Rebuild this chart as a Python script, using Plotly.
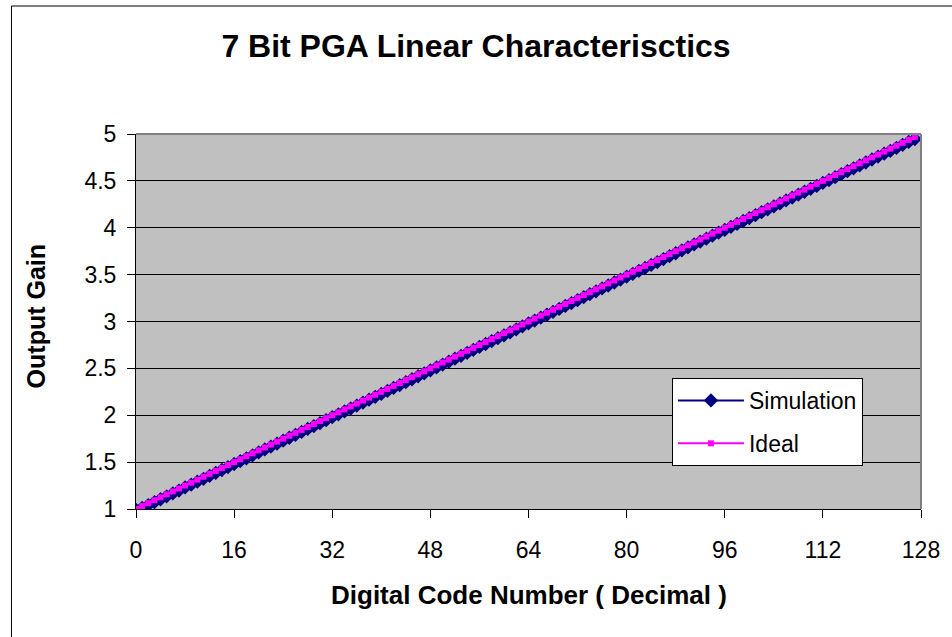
import plotly.graph_objects as go

codes = list(range(128))

ideal = [
    1.0, 1.03125, 1.0625, 1.09375, 1.125, 1.15625, 1.1875, 1.21875, 1.25, 1.28125, 1.3125, 1.34375, 1.375, 1.40625, 1.4375, 1.46875,
    1.5, 1.53125, 1.5625, 1.59375, 1.625, 1.65625, 1.6875, 1.71875, 1.75, 1.78125, 1.8125, 1.84375, 1.875, 1.90625, 1.9375, 1.96875,
    2.0, 2.03125, 2.0625, 2.09375, 2.125, 2.15625, 2.1875, 2.21875, 2.25, 2.28125, 2.3125, 2.34375, 2.375, 2.40625, 2.4375, 2.46875,
    2.5, 2.53125, 2.5625, 2.59375, 2.625, 2.65625, 2.6875, 2.71875, 2.75, 2.78125, 2.8125, 2.84375, 2.875, 2.90625, 2.9375, 2.96875,
    3.0, 3.03125, 3.0625, 3.09375, 3.125, 3.15625, 3.1875, 3.21875, 3.25, 3.28125, 3.3125, 3.34375, 3.375, 3.40625, 3.4375, 3.46875,
    3.5, 3.53125, 3.5625, 3.59375, 3.625, 3.65625, 3.6875, 3.71875, 3.75, 3.78125, 3.8125, 3.84375, 3.875, 3.90625, 3.9375, 3.96875,
    4.0, 4.03125, 4.0625, 4.09375, 4.125, 4.15625, 4.1875, 4.21875, 4.25, 4.28125, 4.3125, 4.34375, 4.375, 4.40625, 4.4375, 4.46875,
    4.5, 4.53125, 4.5625, 4.59375, 4.625, 4.65625, 4.6875, 4.71875, 4.75, 4.78125, 4.8125, 4.84375, 4.875, 4.90625, 4.9375, 4.96875,
]

simulation = [
    0.990, 1.012, 1.042, 1.073, 1.104, 1.135, 1.166, 1.197, 1.230, 1.260, 1.291, 1.322, 1.354, 1.385, 1.416, 1.447,
    1.480, 1.510, 1.541, 1.572, 1.603, 1.635, 1.666, 1.697, 1.729, 1.760, 1.791, 1.822, 1.854, 1.885, 1.916, 1.947,
    1.979, 2.010, 2.041, 2.072, 2.103, 2.134, 2.166, 2.197, 2.229, 2.260, 2.291, 2.322, 2.353, 2.384, 2.416, 2.447,
    2.479, 2.510, 2.541, 2.572, 2.603, 2.634, 2.666, 2.697, 2.729, 2.760, 2.791, 2.822, 2.853, 2.884, 2.916, 2.947,
    2.979, 3.010, 3.041, 3.072, 3.103, 3.134, 3.166, 3.197, 3.228, 3.259, 3.291, 3.322, 3.353, 3.384, 3.416, 3.447,
    3.478, 3.509, 3.541, 3.572, 3.603, 3.634, 3.666, 3.697, 3.728, 3.759, 3.791, 3.822, 3.853, 3.884, 3.916, 3.947,
    3.978, 4.009, 4.041, 4.072, 4.103, 4.134, 4.166, 4.197, 4.228, 4.259, 4.291, 4.322, 4.353, 4.384, 4.415, 4.446,
    4.478, 4.509, 4.540, 4.571, 4.603, 4.634, 4.665, 4.696, 4.728, 4.759, 4.790, 4.821, 4.853, 4.884, 4.915, 4.946,
]

x_ticks = [0, 16, 32, 48, 64, 80, 96, 112, 128]
y_ticks = [1, 1.5, 2, 2.5, 3, 3.5, 4, 4.5, 5]

title_text = "7 Bit PGA Linear Characterisctics"
x_title = "Digital Code Number ( Decimal )"
y_title = "Output Gain"

FONT = "Liberation Sans, Arial, sans-serif"

W, H = 952, 637
ML, MR, MT, MB = 136, 28, 134, 128
PW = W - ML - MR
PH = H - MT - MB

def px_x(p):
    return (p - ML) / PW

def px_y(p):
    return (H - MB - p) / PH

fig = go.Figure()
fig.add_trace(go.Scatter(
    x=codes, y=simulation, name="Simulation", mode="lines+markers",
    line=dict(color="#000080", width=2),
    marker=dict(symbol="diamond", size=11, color="#000080"),
    legendgroup="sim",
))
fig.add_trace(go.Scatter(
    x=codes, y=ideal, name="Ideal", mode="lines+markers",
    line=dict(color="#FF00FF", width=2),
    marker=dict(symbol="square", size=6, color="#FF00FF"),
    legendgroup="ideal",
))

fig.update_layout(
    width=W, height=H,
    margin=dict(l=ML, r=MR, t=MT, b=MB, pad=0),
    paper_bgcolor="white",
    plot_bgcolor="#C0C0C0",
    font=dict(family=FONT, size=23, color="black"),
    title=dict(text="<b>" + title_text + "</b>", x=0.5, xanchor="center",
               y=1 - 46 / H, yanchor="middle", yref="container",
               font=dict(family=FONT, size=32, color="black")),
    showlegend=True,
    legend=dict(
        x=px_x(674), y=px_y(378), xanchor="left", yanchor="top",
        bgcolor="white", bordercolor="black", borderwidth=1,
        font=dict(family=FONT, size=23, color="black"),
        traceorder="grouped", tracegroupgap=10, itemwidth=66,
    ),
    xaxis=dict(
        range=[0, 128], tickvals=x_ticks, ticktext=[str(v) for v in x_ticks],
        showgrid=False, zeroline=False,
        showline=True, linecolor="black", linewidth=1,
        ticks="outside", ticklen=8, tickcolor="black",
        ticklabelstandoff=12,
        tickfont=dict(family=FONT, size=23, color="black"),
    ),
    yaxis=dict(
        range=[1, 5], tickvals=y_ticks, ticktext=[("%g" % v) for v in y_ticks],
        showgrid=True, gridcolor="black", gridwidth=1, zeroline=False,
        showline=True, linecolor="black", linewidth=1,
        ticks="outside", ticklen=8, tickcolor="black",
        ticklabelstandoff=6,
        tickfont=dict(family=FONT, size=23, color="black"),
    ),
    annotations=[
        dict(text="<b>" + x_title + "</b>", xref="paper", yref="paper",
             x=0.5, y=px_y(595), xanchor="center", yanchor="middle",
             showarrow=False, font=dict(family=FONT, size=26, color="black")),
        dict(text="<b>" + y_title + "</b>", xref="paper", yref="paper",
             x=px_x(36), y=px_y(316), xanchor="center", yanchor="middle",
             textangle=-90, showarrow=False,
             font=dict(family=FONT, size=25, color="black")),
    ],
    shapes=[
        # plot area border (top, right) in gray
        dict(type="line", xref="paper", yref="paper", x0=0, x1=1, y0=1, y1=1,
             line=dict(color="#808080", width=2)),
        dict(type="line", xref="paper", yref="paper", x0=1, x1=1, y0=0, y1=1,
             line=dict(color="#808080", width=2)),
        # chart area border
        dict(type="line", xref="paper", yref="paper",
             x0=px_x(11), x1=px_x(11), y0=px_y(H + 5), y1=px_y(6),
             line=dict(color="black", width=1)),
        dict(type="line", xref="paper", yref="paper",
             x0=px_x(11), x1=px_x(W + 5), y0=px_y(6), y1=px_y(6),
             line=dict(color="black", width=1)),
    ],
)

fig.write_html(
    "out.html",
    config={"displayModeBar": False},
    post_script="document.body.style.margin='0';document.body.style.overflow='hidden';",
)
